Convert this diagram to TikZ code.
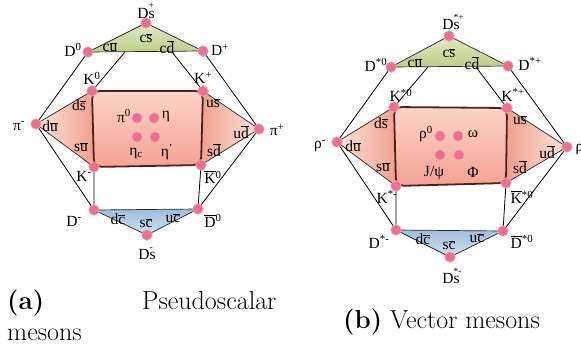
\documentclass[tikz,border=0pt]{standalone}
\usepackage{fontspec}
\newfontfamily\lblfont{Liberation Serif}
\definecolor{dotpink}{RGB}{234,112,142}
\definecolor{dotedge}{RGB}{246,168,186}
\definecolor{greenA}{RGB}{226,234,198}
\definecolor{greenB}{RGB}{186,206,136}
\definecolor{blueA}{RGB}{210,226,240}
\definecolor{blueB}{RGB}{158,190,220}
\definecolor{pinkA}{RGB}{252,228,218}
\definecolor{pinkB}{RGB}{240,160,140}
\definecolor{rectA}{RGB}{252,212,198}
\definecolor{rectB}{RGB}{244,162,146}
\definecolor{rectedge}{RGB}{78,34,26}
\newcommand\qb[2]{#1$\overline{\mbox{#2}}$}
\newcommand\ob[1]{$\overline{\mbox{#1}}$}
\newcommand\Dsx[1]{D\makebox[0pt][l]{\raisebox{0.6em}{\fontsize{9.5}{9.5}\selectfont #1}}s}
\newcommand\sps[1]{\textsuperscript{#1}}
\begin{document}
\begin{tikzpicture}[x=1pt,y=-1pt,
  meson/.style={circle,inner sep=0pt,minimum size=10.5pt,fill=dotpink,draw=dotedge,line width=0.6pt},
  lbl/.style={font=\lblfont\fontsize{15.5}{15.5}\selectfont,inner sep=0.5pt},
  conn/.style={line width=0.8pt,black},
  triedge/.style={line width=0.7pt,black!85},
  boxedge/.style={line width=1.8pt,rectedge,rounded corners=8pt},
  captxt/.style={font=\fontsize{26}{31}\selectfont,inner sep=0pt,anchor=base west}]
\useasboundingbox (0,0) rectangle (581,349);
% ---------------- left diagram: coordinates
\coordinate (aDsp) at (146,23);
\coordinate (aD0) at (88,52);
\coordinate (aDp) at (203,51);
\coordinate (aK0) at (92,91);
\coordinate (aKp) at (203,91);
\coordinate (aPm) at (36,124);
\coordinate (aPp) at (259,129);
\coordinate (aKm) at (94,167);
\coordinate (aKb) at (201,165);
\coordinate (aDm) at (94,210);
\coordinate (aDb) at (198,209);
\coordinate (aDsm) at (147,235);
\coordinate (aGL) at (125,52);
\coordinate (aGR) at (172,52);
% fills
\shade[top color=greenA,bottom color=greenB] (aD0) -- (aDsp) -- (aDp) -- cycle;
\shade[top color=blueB,bottom color=blueA] (aDm) -- (aDb) -- (aDsm) -- cycle;
\shade[left color=pinkA,right color=pinkB] (aK0) -- (aPm) -- (aKm) -- cycle;
\shade[left color=pinkB,right color=pinkA] (aKp) -- (aPp) -- (aKb) -- cycle;
\shade[top color=rectA,bottom color=rectB,rounded corners=8pt] (aK0) -- (aKp) -- (aKb) -- (aKm) -- cycle;
% edges
\draw[triedge] (aD0) -- (aDsp) -- (aDp) -- cycle;
\draw[triedge] (aDm) -- (aDb) -- (aDsm) -- cycle;
\draw[triedge] (aK0) -- (aPm) -- (aKm);
\draw[triedge] (aKp) -- (aPp) -- (aKb);
\draw[boxedge] (aK0) -- (aKp) -- (aKb) -- (aKm) -- cycle;
% connectors
\draw[conn] (aD0) -- (aPm) -- (aDm) -- (aKm);
\draw[conn] (aDp) -- (aPp) -- (aDb) -- (aKb);
\draw[conn] (aGL) -- (aK0);
\draw[conn] (aGR) -- (aKp);
% dots
\foreach \p in {aDsp,aD0,aDp,aK0,aKp,aPm,aPp,aKm,aKb,aDm,aDb,aDsm}
  \node[meson] (n\p) at (\p) {};
\node[meson] (aI1) at (137,118) {};
\node[meson] (aI2) at (154,118) {};
\node[meson] (aI3) at (137,137) {};
\node[meson] (aI4) at (155,137) {};
% labels
\node[lbl] (laDsp) at (146,11) {\Dsx{+}};
\node[lbl] (laD0) at (73,50) {D\sps{0}};
\node[lbl] (laDp) at (220,50) {D\sps{+}};
\node[lbl] (laK0) at (92,78) {K\sps{0}};
\node[lbl] (laKp) at (203,78) {K\sps{+}};
\node[lbl] (laPm) at (19,126) {π\sps{-}};
\node[lbl] (laPp) at (277,130) {π\sps{+}};
\node[lbl] (laKm) at (84,176) {K\sps{-}};
\node[lbl] (laKb) at (213,177) {\ob{K}\sps{0}};
\node[lbl] (laDm) at (74,221) {D\sps{-}};
\node[lbl] (laDb) at (213,221) {\ob{D}\sps{0}};
\node[lbl] (laDsm) at (147,254) {\Dsx{-}};
\node[lbl] (qa1) at (146,38) {\qb{c}{s}};
\node[lbl] (qa2) at (110,47) {\qb{c}{u}};
\node[lbl] (qa3) at (167,47) {\qb{c}{d}};
\node[lbl] (qa4) at (79,105) {\qb{d}{s}};
\node[lbl] (qa5) at (50,126) {\qb{d}{u}};
\node[lbl] (qa6) at (81,147) {\qb{s}{u}};
\node[lbl] (qa7) at (213,103) {\qb{u}{s}};
\node[lbl] (qa8) at (241,132) {\qb{u}{d}};
\node[lbl] (qa9) at (214,150) {\qb{s}{d}};
\node[lbl] (qa10) at (118,219) {\qb{d}{c}};
\node[lbl] (qa11) at (146,223) {\qb{s}{c}};
\node[lbl] (qa12) at (173,218) {\qb{u}{c}};
\node[lbl] (ga1) at (124,116) {π\sps{0}};
\node[lbl] (ga2) at (166,116) {η};
\node[lbl] (ga3) at (136,153) {η\textsubscript{c}};
\node[lbl] (ga4) at (167,152) {η\sps{’}};
% ---------------- right diagram: coordinates
\coordinate (bDsp) at (449,36);
\coordinate (bD0) at (391,67);
\coordinate (bDp) at (508,66);
\coordinate (bK0) at (394,107);
\coordinate (bKp) at (507,108);
\coordinate (bRm) at (337,142);
\coordinate (bRp) at (567,147);
\coordinate (bKm) at (396,186);
\coordinate (bKb) at (506,183);
\coordinate (bDm) at (396,230);
\coordinate (bDb) at (503,231);
\coordinate (bDsm) at (450,257);
\coordinate (bGL) at (428,67);
\coordinate (bGR) at (476,67);
% fills
\shade[top color=greenA,bottom color=greenB] (bD0) -- (bDsp) -- (bDp) -- cycle;
\shade[top color=blueB,bottom color=blueA] (bDm) -- (bDb) -- (bDsm) -- cycle;
\shade[left color=pinkA,right color=pinkB] (bK0) -- (bRm) -- (bKm) -- cycle;
\shade[left color=pinkB,right color=pinkA] (bKp) -- (bRp) -- (bKb) -- cycle;
\shade[top color=rectA,bottom color=rectB,rounded corners=8pt] (bK0) -- (bKp) -- (bKb) -- (bKm) -- cycle;
% edges
\draw[triedge] (bD0) -- (bDsp) -- (bDp) -- cycle;
\draw[triedge] (bDm) -- (bDb) -- (bDsm) -- cycle;
\draw[triedge] (bK0) -- (bRm) -- (bKm);
\draw[triedge] (bKp) -- (bRp) -- (bKb);
\draw[boxedge] (bK0) -- (bKp) -- (bKb) -- (bKm) -- cycle;
% connectors
\draw[conn] (bD0) -- (bRm) -- (bDm) -- (bKm);
\draw[conn] (bDp) -- (bRp) -- (bDb) -- (bKb);
\draw[conn] (bGL) -- (bK0);
\draw[conn] (bGR) -- (bKp);
% dots
\foreach \p in {bDsp,bD0,bDp,bK0,bKp,bRm,bRp,bKm,bKb,bDm,bDb,bDsm}
  \node[meson] (n\p) at (\p) {};
\node[meson] (bI1) at (440,136) {};
\node[meson] (bI2) at (458,136) {};
\node[meson] (bI3) at (440,155) {};
\node[meson] (bI4) at (459,155) {};
% labels
\node[lbl] (lbDsp) at (451,22) {\Dsx{*+}};
\node[lbl] (lbD0) at (376,65) {D\sps{*0}};
\node[lbl] (lbDp) at (530,64) {D\sps{*+}};
\node[lbl] (lbK0) at (401,95) {K\sps{*0}};
\node[lbl] (lbKp) at (513,95) {K\sps{*+}};
\node[lbl] (lbRm) at (320,146) {ρ\sps{-}};
\node[lbl,anchor=west] (lbRp) at (575,147) {ρ\sps{+}};
\node[lbl] (lbKm) at (387,197) {K\sps{*-}};
\node[lbl] (lbKb) at (522,197) {\ob{K}\sps{*0}};
\node[lbl] (lbDm) at (379,242) {D\sps{*-}};
\node[lbl] (lbDb) at (522,242) {\ob{D}\sps{*0}};
\node[lbl] (lbDsm) at (451,276) {\Dsx{*-}};
\node[lbl] (qb1) at (449,53) {\qb{c}{s}};
\node[lbl] (qb2) at (415,63) {\qb{c}{u}};
\node[lbl] (qb3) at (472,63) {\qb{c}{d}};
\node[lbl] (qb4) at (381,123) {\qb{d}{s}};
\node[lbl] (qb5) at (353,146) {\qb{d}{u}};
\node[lbl] (qb6) at (383,167) {\qb{s}{u}};
\node[lbl] (qb7) at (520,120) {\qb{u}{s}};
\node[lbl] (qb8) at (547,152) {\qb{u}{d}};
\node[lbl] (qb9) at (520,167) {\qb{s}{d}};
\node[lbl] (qb10) at (423,239) {\qb{d}{c}};
\node[lbl] (qb11) at (449,245) {\qb{s}{c}};
\node[lbl] (qb12) at (477,238) {\qb{u}{c}};
\node[lbl] (gb1) at (426,134) {ρ\sps{0}};
\node[lbl] (gb2) at (473,134) {ω};
\node[lbl] (gb3) at (434,173) {J/ψ};
\node[lbl] (gb4) at (473,172) {Φ};
% ---------------- captions
\node[captxt] (capa1) at (7,309) {\textbf{(a)}};
\node[captxt] (capa2) at (142,309) {Pseudoscalar};
\node[captxt] (capa3) at (7,340) {mesons};
\node[captxt] (capb) at (343,328) {\textbf{(b)} Vector mesons};
\end{tikzpicture}
\end{document}
